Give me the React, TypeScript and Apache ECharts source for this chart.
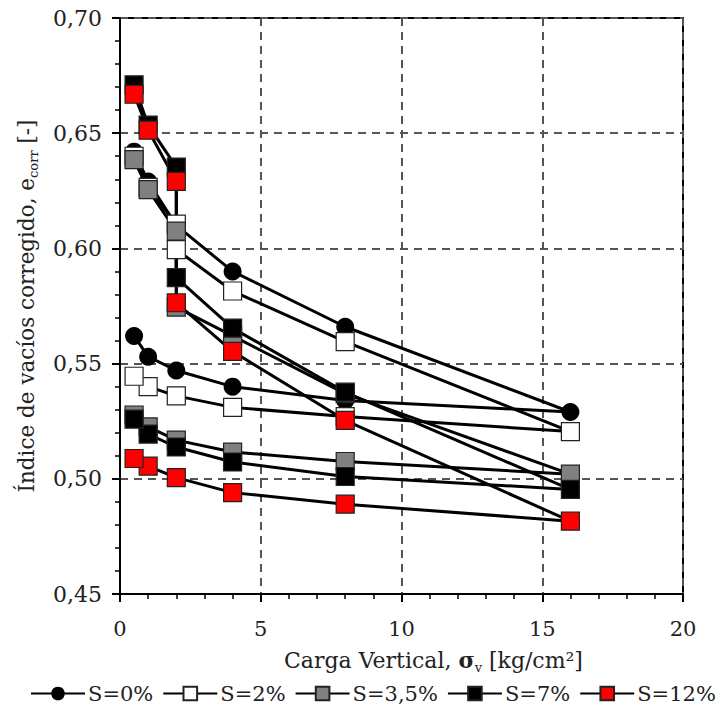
import React, { useEffect, useRef } from "react";
import * as echarts from "echarts";

const seriesNames = ["S=0%", "S=2%", "S=3,5%", "S=7%", "S=12%"];
const loadsS0 = [0.5, 1, 2, 4, 8, 16, 8, 4, 2, 1, 0.5];
const loadsWet = [0.5, 1, 2, 2, 4, 8, 16, 8, 4, 2, 1, 0.5];
const voidS0 = [0.642, 0.629, 0.61, 0.59, 0.566, 0.529, 0.534, 0.54, 0.547, 0.553, 0.562];
const voidS2 = [0.64, 0.6265, 0.6105, 0.5995, 0.5815, 0.5595, 0.5205, 0.527, 0.531, 0.536, 0.54, 0.5445];
const voidS35 = [0.6385, 0.6255, 0.6075, 0.5745, 0.562, 0.537, 0.502, 0.5075, 0.5116, 0.5168, 0.5225, 0.5277];
const voidS7 = [0.671, 0.6535, 0.6353, 0.5873, 0.5654, 0.5376, 0.4954, 0.501, 0.5073, 0.5138, 0.5194, 0.5259];
const voidS12 = [0.6669, 0.6513, 0.6291, 0.5764, 0.5553, 0.5254, 0.4816, 0.489, 0.494, 0.5005, 0.5055, 0.5088];
const xTicks = [0, 5, 10, 15, 20];
const yTicks = [0.45, 0.5, 0.55, 0.6, 0.65, 0.7];

const FONT = "DejaVu Serif";

function pairs(xs: number[], ys: number[]) {
  return xs.map((x, i) => [x, ys[i]]);
}

export default function App() {
  const ref = useRef<HTMLDivElement>(null);
  useEffect(() => {
    if (!ref.current) return;
    const chart = echarts.init(ref.current, undefined, { renderer: "svg" });
    const mk = (name: string, xs: number[], ys: number[], symbol: string, color: string) => ({
      name,
      type: "line",
      data: pairs(xs, ys),
      symbol,
      symbolSize: 18,
      showSymbol: true,
      lineStyle: { color: "#000", width: 3 },
      itemStyle: { color, borderColor: symbol === "circle" ? "#000" : "#222", borderWidth: symbol === "circle" ? 0 : 1.2 },
      emphasis: { disabled: true },
    });
    chart.setOption({
      animation: false,
      textStyle: { fontFamily: FONT },
      grid: { left: 120, right: 38, top: 18, bottom: 115, show: true, borderColor: "#000", borderWidth: 2 },
      xAxis: {
        type: "value",
        min: xTicks[0],
        max: xTicks[xTicks.length - 1],
        interval: 5,
        name: "{n|Carga Vertical, }{g|σ}{s|v}{n| [kg/cm²]}",
        nameLocation: "middle",
        nameGap: 55,
        nameTextStyle: {
          padding: [0, 0, 0, 64],
          rich: {
            n: { fontFamily: FONT, fontSize: 22, color: "#222", lineHeight: 26, verticalAlign: "top" },
            g: { fontFamily: FONT, fontSize: 22, color: "#222", lineHeight: 26, verticalAlign: "top", fontWeight: "bold" },
            s: { fontFamily: FONT, fontSize: 13, color: "#222", lineHeight: 26, verticalAlign: "top", padding: [12, 0, 0, 0] },
          },
        },
        axisLine: { show: true, lineStyle: { color: "#000", width: 2 } },
        axisTick: { show: true, inside: false, length: 8, lineStyle: { color: "#000", width: 2 } },
        minorTick: { show: true, splitNumber: 5, length: 5, lineStyle: { color: "#000", width: 1.5 } },
        axisLabel: { color: "#222", fontSize: 21, margin: 24, fontFamily: FONT },
        splitLine: { show: true, lineStyle: { color: "#555", width: 2, type: [8, 6] } },
      },
      yAxis: {
        type: "value",
        min: yTicks[0],
        max: yTicks[yTicks.length - 1],
        interval: 0.05,
        name: "{n|Índice de vacíos corregido, e}{s|corr}{n| [-]}",
        nameLocation: "middle",
        nameGap: 79,
        nameRotate: 90,
        nameTextStyle: {
          rich: {
            n: { fontFamily: FONT, fontSize: 21.5, color: "#222", lineHeight: 26, verticalAlign: "top" },
            s: { fontFamily: FONT, fontSize: 13, color: "#222", lineHeight: 26, verticalAlign: "top", padding: [12, 0, 0, 0] },
          },
        },
        axisLine: { show: true, lineStyle: { color: "#000", width: 2 } },
        axisTick: { show: true, inside: false, length: 8, lineStyle: { color: "#000", width: 2 } },
        minorTick: { show: true, splitNumber: 5, length: 5, lineStyle: { color: "#000", width: 1.5 } },
        axisLabel: {
          color: "#222",
          fontSize: 22,
          margin: 18,
          fontFamily: FONT,
          formatter: (v: number) => v.toFixed(2).replace(".", ","),
        },
        splitLine: { show: true, lineStyle: { color: "#555", width: 2, type: [8, 6] } },
      },
      legend: {
        bottom: 5,
        left: 30,
        width: 691,
        padding: 0,
        itemWidth: 54,
        itemHeight: 17,
        itemGap: 9,
        textStyle: { fontFamily: FONT, fontSize: 21, color: "#222", padding: [0, 0, 0, -2] },
        data: seriesNames,
      },
      series: [
        mk(seriesNames[0], loadsS0, voidS0, "circle", "#000"),
        mk(seriesNames[1], loadsWet, voidS2, "rect", "#fff"),
        mk(seriesNames[2], loadsWet, voidS35, "rect", "#808080"),
        mk(seriesNames[3], loadsWet, voidS7, "rect", "#000"),
        mk(seriesNames[4], loadsWet, voidS12, "rect", "#ff0000"),
      ],
    });
    return () => chart.dispose();
  }, []);
  return <div ref={ref} style={{ width: 721, height: 709, position: "absolute", left: 0, top: 0 }} />;
}
